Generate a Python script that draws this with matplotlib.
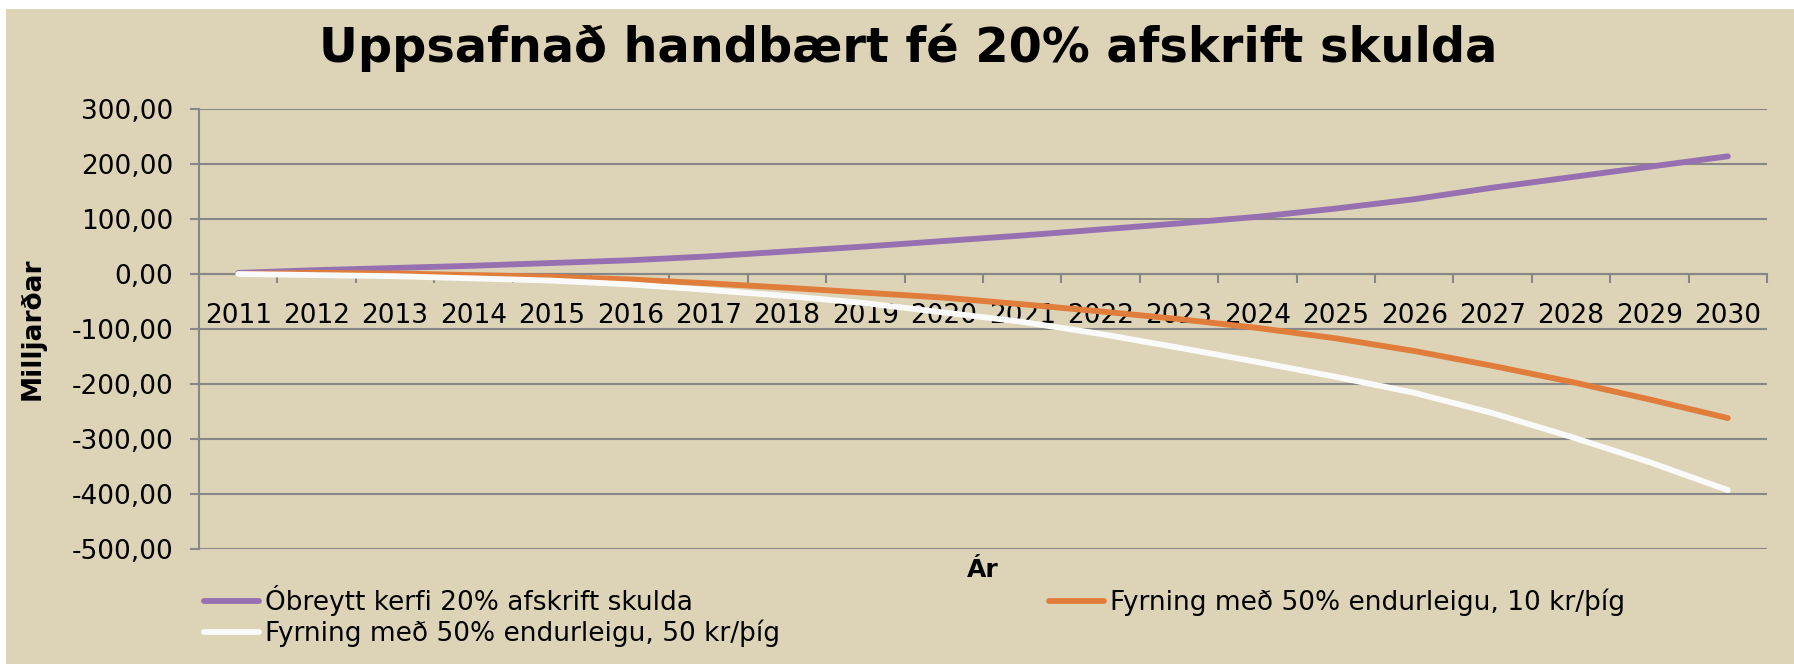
import numpy as np
import matplotlib
matplotlib.use("Agg")
import matplotlib.pyplot as plt
from matplotlib.patches import Rectangle
from matplotlib.ticker import FuncFormatter, FixedLocator

years = [str(y) for y in range(2011, 2031)]
obreytt = [2, 7, 11, 15, 20, 25, 32, 41, 50, 60, 70, 81, 92, 104, 119, 136, 157, 176, 195, 214]
fyrning_10 = [0, 2, 1, -2, -5, -10, -17, -25, -34, -43, -55, -68, -82, -98, -117, -140, -167, -196, -228, -262]
fyrning_50 = [0, -2, -4, -8, -12, -19, -29, -40, -53, -70, -87, -109, -134, -160, -187, -216, -253, -296, -342, -393]

names = ["Óbreytt kerfi 20% afskrift skulda",
         "Fyrning með 50% endurleigu, 10 kr/þíg",
         "Fyrning með 50% endurleigu, 50 kr/þíg"]

bg = "#ddd3b7"
grid_c = "#878787"
purple = "#9670b0"
orange = "#e07d3b"
white = "#fafafa"

W, H = 1794, 664
fig = plt.figure(figsize=(W / 100, H / 100), dpi=100, facecolor="white")
fig.patches.append(Rectangle((6 / W, 0), 1, 1 - 9 / H, transform=fig.transFigure,
                             facecolor=bg, edgecolor="none", zorder=-10))

ax = fig.add_axes([199 / W, 1 - 549 / H, (1767 - 199) / W, (549 - 109) / H])
ax.set_facecolor("none")

x = np.arange(len(years))
l1, = ax.plot(x, obreytt, color=purple, lw=4.2, solid_capstyle="round", zorder=3)
l2, = ax.plot(x, fyrning_10, color=orange, lw=4.2, solid_capstyle="round", zorder=3)
l3, = ax.plot(x, fyrning_50, color=white, lw=4.2, solid_capstyle="round", zorder=4)

ax.set_xlim(-0.5, len(years) - 0.5)
ax.set_ylim(-500, 300)
ax.set_yticks(np.arange(-500, 301, 100))
ax.yaxis.set_major_formatter(FuncFormatter(lambda v, p: f"{v:.2f}".replace(".", ",")))
ax.grid(axis="y", color=grid_c, lw=1.5)
ax.set_axisbelow(True)

for s in ["top", "right"]:
    ax.spines[s].set_visible(False)
ax.spines["left"].set_color(grid_c)
ax.spines["left"].set_linewidth(1.5)
ax.spines["bottom"].set_position(("data", 0))
ax.spines["bottom"].set_color(grid_c)
ax.spines["bottom"].set_linewidth(1.5)

ax.set_xticks(x)
ax.set_xticklabels(years)
ax.xaxis.set_minor_locator(FixedLocator(np.arange(-0.5, len(years), 1.0)))
ax.tick_params(axis="x", which="major", length=0, pad=21, labelsize=19, colors="black")
ax.tick_params(axis="x", which="minor", length=6.5, width=1.5, color=grid_c, direction="out")
ax.tick_params(axis="y", length=6.5, width=1.5, color=grid_c, pad=12, labelsize=19)

fig.text(908 / W, 1 - 48 / H, "Uppsafnað handbært fé 20% afskrift skulda",
         ha="center", va="center", fontsize=34.5, fontweight="bold")
fig.text(33 / W, 1 - 329 / H, "Milljarðar", rotation=90, ha="center", va="center",
         fontsize=19, fontweight="bold")
fig.text(983 / W, 1 - 570 / H, "Ár", ha="center", va="center", fontsize=18, fontweight="bold")

fig.legend([l1, l3, l2], [names[0], names[2], names[1]], ncol=2, frameon=False,
           loc="upper left", bbox_to_anchor=(204 / W, 1 - 585 / H), borderpad=0,
           borderaxespad=0, handlelength=2.1, handletextpad=0.2, labelspacing=0.15,
           columnspacing=10.2, fontsize=19)

fig.savefig("out.png", dpi=100, facecolor=fig.get_facecolor())
